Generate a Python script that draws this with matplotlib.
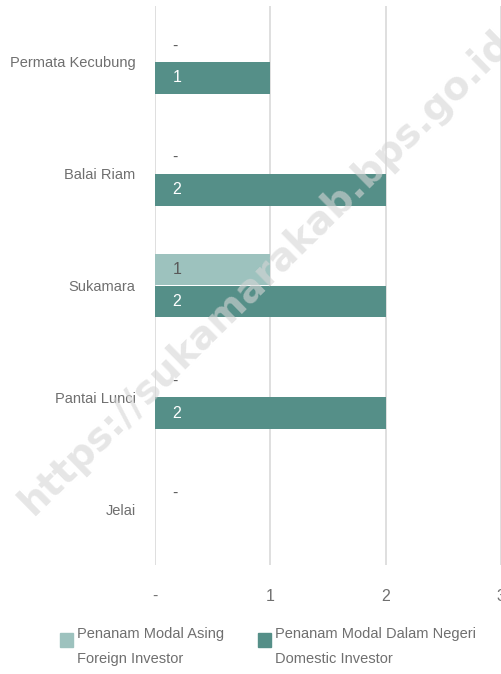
import numpy as np
import matplotlib.pyplot as plt
from matplotlib.patches import Rectangle
from matplotlib.legend_handler import HandlerPatch

# data
kecamatan = ['Permata Kecubung', 'Balai Riam', 'Sukamara', 'Pantai Lunci', 'Jelai']
asing = [0, 0, 1, 0, 0]                 # Penanam Modal Asing
dalam_negeri = [1, 2, 2, 2, np.nan]     # Penanam Modal Dalam Negeri
xticks = [0, 1, 2, 3]
xticklabels = ['-', '1', '2', '3']
seri = ['Penanam Modal Asing\nForeign Investor', 'Penanam Modal Dalam Negeri\nDomestic Investor']

plt.rcParams['font.family'] = ['Liberation Sans', 'DejaVu Sans']

c_asing = '#9dc2be'
c_dn = '#558f88'
txt = '#6f6f6f'

fig = plt.figure(figsize=(5.01, 6.74), dpi=100)
ax = fig.add_axes([155 / 501, 1 - 565 / 674, 1 - 155 / 501, (565 - 6) / 674])

y = np.arange(len(kecamatan))
h = 0.285
ax.barh(y - h / 2, asing, height=h, color=c_asing, zorder=2)
ax.barh(y + h / 2, dalam_negeri, height=h, color=c_dn, zorder=2)

for i in range(len(kecamatan)):
    v = asing[i]
    ax.text(0.15, y[i] - h / 2, '-' if v == 0 else str(v), va='center', ha='left',
            fontsize=11.5, color='#595959', zorder=3)
    v = dalam_negeri[i]
    if not np.isnan(v):
        ax.text(0.15, y[i] + h / 2, '-' if v == 0 else str(int(v)), va='center', ha='left',
                fontsize=11.5, color='white' if v > 0 else '#595959', zorder=3)

ax.set_ylim(len(kecamatan) - 0.5, -0.5)
ax.set_xlim(0, 3)
ax.set_yticks(y)
ax.set_yticklabels(kecamatan, fontsize=10.5, color=txt)
ax.set_xticks(xticks)
ax.set_xticklabels(xticklabels, fontsize=11.5, color=txt)
ax.tick_params(length=0)
ax.tick_params(axis='x', pad=17)
ax.tick_params(axis='y', pad=14)
ax.grid(axis='x', color='#d9d9d9', linewidth=1.2, zorder=0)
for s in ax.spines.values():
    s.set_visible(False)


# square legend key sitting on the first text line
def kotak(legend, orig_handle, xdescent, ydescent, width, height, fontsize):
    s = 0.9 * fontsize
    return Rectangle((-xdescent, -ydescent + height - s - 0.1 * fontsize), s, s)


handles = [Rectangle((0, 0), 1, 1, color=c_asing), Rectangle((0, 0), 1, 1, color=c_dn)]
leg = fig.legend(handles, seri, loc='lower center', bbox_to_anchor=(0.535, -0.008), ncol=2,
                 frameon=False, fontsize=10.5, handlelength=0.9, handleheight=3.0,
                 handletextpad=0.3, columnspacing=2.3, labelcolor=txt,
                 handler_map={Rectangle: HandlerPatch(patch_func=kotak)})
for t in leg.get_texts():
    t.set_linespacing(2.0)

# watermark
fig.text(0.53, 0.595, 'https://sukamarakab.bps.go.id', fontsize=28, fontweight='bold',
         color='#d6d6d6', alpha=0.6, rotation=44.5, ha='center', va='center',
         family='DejaVu Sans', zorder=10)

fig.savefig('out.png', dpi=100)
